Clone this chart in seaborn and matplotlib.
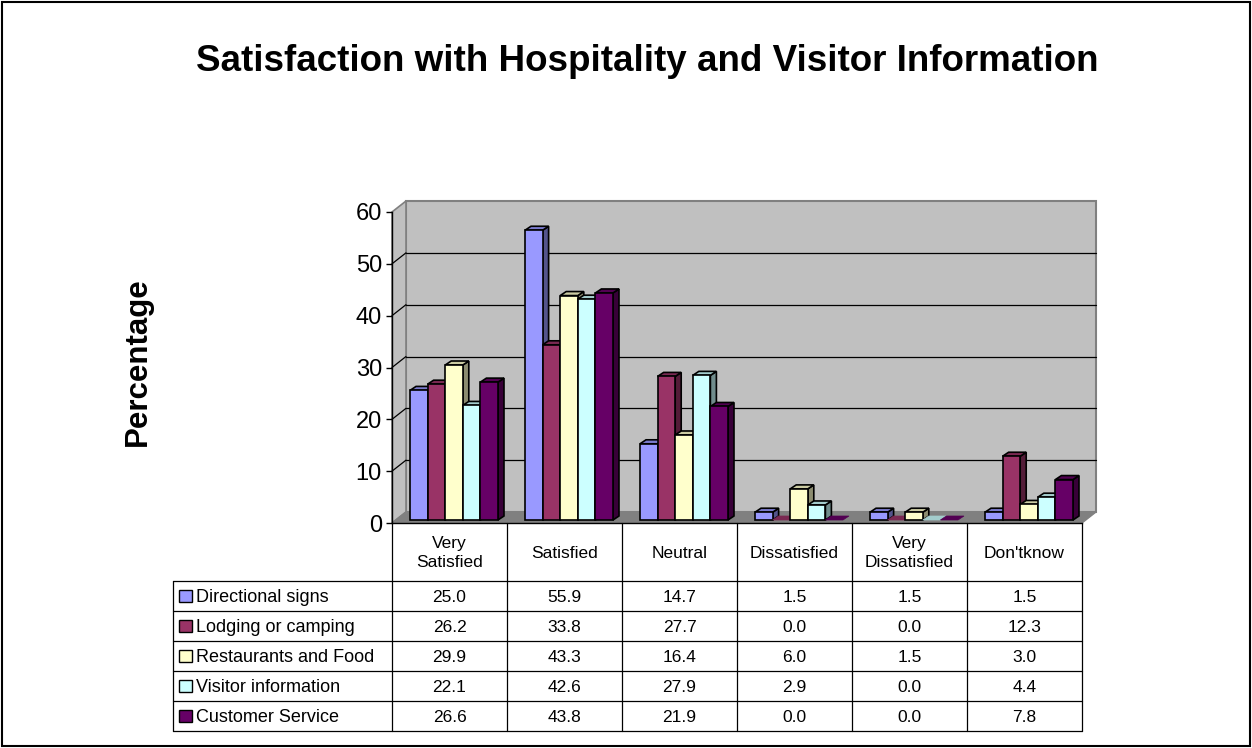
import matplotlib
matplotlib.use('Agg')
import matplotlib.pyplot as plt
from matplotlib.patches import Polygon, Rectangle
from matplotlib.lines import Line2D
import seaborn as sns
import pandas as pd

categories = ['Very Satisfied', 'Satisfied', 'Neutral', 'Dissatisfied', 'Very Dissatisfied', "Don'tknow"]
header_labels = ['Very\nSatisfied', 'Satisfied', 'Neutral', 'Dissatisfied', 'Very\nDissatisfied', "Don'tknow"]
series = ['Directional signs', 'Lodging or camping', 'Restaurants and Food',
          'Visitor information', 'Customer Service']
directional = [25.0, 55.9, 14.7, 1.5, 1.5, 1.5]
lodging = [26.2, 33.8, 27.7, 0.0, 0.0, 12.3]
restaurants = [29.9, 43.3, 16.4, 6.0, 1.5, 3.0]
visitor = [22.1, 42.6, 27.9, 2.9, 0.0, 4.4]
customer = [26.6, 43.8, 21.9, 0.0, 0.0, 7.8]
colors = ['#9999FF', '#993366', '#FFFFCC', '#CCFFFF', '#660066']

values = [directional, lodging, restaurants, visitor, customer]
rows = []
for s, vals in zip(series, values):
    for c, v in zip(categories, vals):
        rows.append({'category': c, 'series': s, 'value': v})
df = pd.DataFrame(rows)

sns.set_style("white")
plt.rcParams['font.family'] = ['Liberation Sans', 'DejaVu Sans']
plt.rcParams['text.color'] = 'black'

W, H = 1252, 748
fig = plt.figure(figsize=(W / 100, H / 100), dpi=100)

# front plane of the chart, in pixels
x_left, x_right = 392, 1082
y_zero, y_top = 523, 212
ax = fig.add_axes([x_left / W, 1 - y_zero / H, (x_right - x_left) / W, (y_zero - y_top) / H])
ax.patch.set_visible(False)

sns.barplot(data=df, x='category', y='value', hue='series', order=categories,
            hue_order=series, palette=colors, saturation=1, width=0.765, gap=0,
            errorbar=None, edgecolor='black', linewidth=1.2, legend=False, ax=ax)

ax.set_xlim(-0.5, 5.5)
ax.set_ylim(0, 60)
ax.set_xticks([])
ax.set_yticks(range(0, 61, 10))
ax.set_xlabel('')
ax.set_ylabel('')
ax.tick_params(axis='y', left=True, direction='out', length=4.3, width=1,
               labelsize=17, pad=3, colors='black')
for side in ['top', 'right']:
    ax.spines[side].set_visible(False)
for side in ['left', 'bottom']:
    ax.spines[side].set_color('black')
    ax.spines[side].set_linewidth(1.0)

bars = [p for p in ax.patches if isinstance(p, Rectangle)]
bars = sorted(bars, key=lambda p: p.get_x())

# pixel -> data conversion for the fake 3D depth
ux = 6 / (x_right - x_left)
uy = 60 / (y_zero - y_top)
wdx, wdy = 14 * ux, 11 * uy       # wall depth
fdx, fdy = 4.5 * ux, 3 * uy       # bar front offset
bdx, bdy = 6 * ux, 4 * uy         # bar depth

wall_kw = dict(clip_on=False, zorder=0.5)
# back wall
ax.add_patch(Polygon([(-0.5 + wdx, wdy), (5.5 + wdx, wdy), (5.5 + wdx, 60 + wdy), (-0.5 + wdx, 60 + wdy)],
                     fc='#C0C0C0', ec='#808080', lw=1.5, **wall_kw))
# side wall
ax.add_patch(Polygon([(-0.5, 0), (-0.5 + wdx, wdy), (-0.5 + wdx, 60 + wdy), (-0.5, 60)],
                     fc='#C0C0C0', ec='#808080', lw=1.2, **wall_kw))
# floor
ax.add_patch(Polygon([(-0.5, 0), (5.5, 0), (5.5 + wdx, wdy), (-0.5 + wdx, wdy)],
                     fc='#808080', ec='#808080', lw=1, **wall_kw))
for v in range(10, 60, 10):
    ax.plot([-0.5 + wdx, 5.5 + wdx], [v + wdy, v + wdy], color='black', lw=0.9, clip_on=False, zorder=1)
    ax.plot([-0.5, -0.5 + wdx], [v, v + wdy], color='black', lw=0.9, clip_on=False, zorder=1)


def shade(color, f):
    r, g, b = matplotlib.colors.to_rgb(color)
    return (r * f, g * f, b * f)


for i, p in enumerate(bars):
    z = 3 + i * 0.01
    x0 = p.get_x() + fdx
    h = p.get_height()
    x1 = x0 + p.get_width()
    y0 = fdy
    y1 = fdy + h
    base = p.get_facecolor()
    p.set_x(x0)
    p.set_y(y0)
    p.set_zorder(z)
    p.set_clip_on(False)
    top_c = shade(base, 0.8)
    side_c = shade(base, 0.55)
    if h == 0:
        p.set_linewidth(0)
        ax.add_patch(Polygon([(x0, y1), (x1, y1), (x1 + bdx, y1 + bdy), (x0 + bdx, y1 + bdy)],
                             fc=top_c, ec=top_c, lw=0.5, clip_on=False, zorder=z - 0.005))
        continue
    ax.add_patch(Polygon([(x1, y0), (x1 + bdx, y0 + bdy), (x1 + bdx, y1 + bdy), (x1, y1)],
                         fc=side_c, ec='black', lw=1.2, clip_on=False, zorder=z - 0.005))
    ax.add_patch(Polygon([(x0, y1), (x1, y1), (x1 + bdx, y1 + bdy), (x0 + bdx, y1 + bdy)],
                         fc=top_c, ec='black', lw=1.2, clip_on=False, zorder=z - 0.005))


def fx(x):
    return x / W


def fy(y):
    return 1 - y / H


def hline(x1, x2, y, lw=0.9):
    fig.add_artist(Line2D([fx(x1), fx(x2)], [fy(y), fy(y)], color='black', lw=lw))


def vline(x, y1, y2, lw=0.9):
    fig.add_artist(Line2D([fx(x), fx(x)], [fy(y1), fy(y2)], color='black', lw=lw))


# data table
col_w = (x_right - x_left) / 6
label_left = 173
head_top, head_bot = y_zero, 581
row_h = 30
row_edges = [head_bot + k * row_h for k in range(len(series) + 1)]

for k in range(7):
    vline(x_left + k * col_w, head_top, row_edges[-1])
vline(label_left, head_bot, row_edges[-1])
for y in row_edges:
    hline(label_left, x_right, y)

for k, lab in enumerate(header_labels):
    fig.text(fx(x_left + (k + 0.5) * col_w), fy((head_top + head_bot) / 2 + 1), lab,
             ha='center', va='center', fontsize=12.5, linespacing=1.35)

for r, (s, vals, c) in enumerate(zip(series, values, colors)):
    yc = row_edges[r] + row_h / 2
    fig.add_artist(Rectangle((fx(179), fy(yc + 6)), 13 / W, 12 / H, transform=fig.transFigure,
                             fc=c, ec='black', lw=1))
    fig.text(fx(196), fy(yc + 1), s, ha='left', va='center', fontsize=13)
    for k, v in enumerate(vals):
        fig.text(fx(x_left + (k + 0.5) * col_w), fy(yc + 1), f'{v:.1f}',
                 ha='center', va='center', fontsize=12.5)

# title, axis label and outer frame
fig.text(fx(647), fy(71), 'Satisfaction with Hospitality and Visitor Information',
         ha='center', va='baseline', fontsize=26.5, fontweight='bold')
fig.text(fx(138), fy(362), 'Percentage', rotation=90, ha='center', va='center',
         fontsize=22.5, fontweight='bold')
fig.add_artist(Rectangle((2 / W, 2 / H), 1 - 4 / W, 1 - 4 / H, transform=fig.transFigure,
                         fill=False, ec='black', lw=1.5))

fig.savefig('out.png', dpi=100)
